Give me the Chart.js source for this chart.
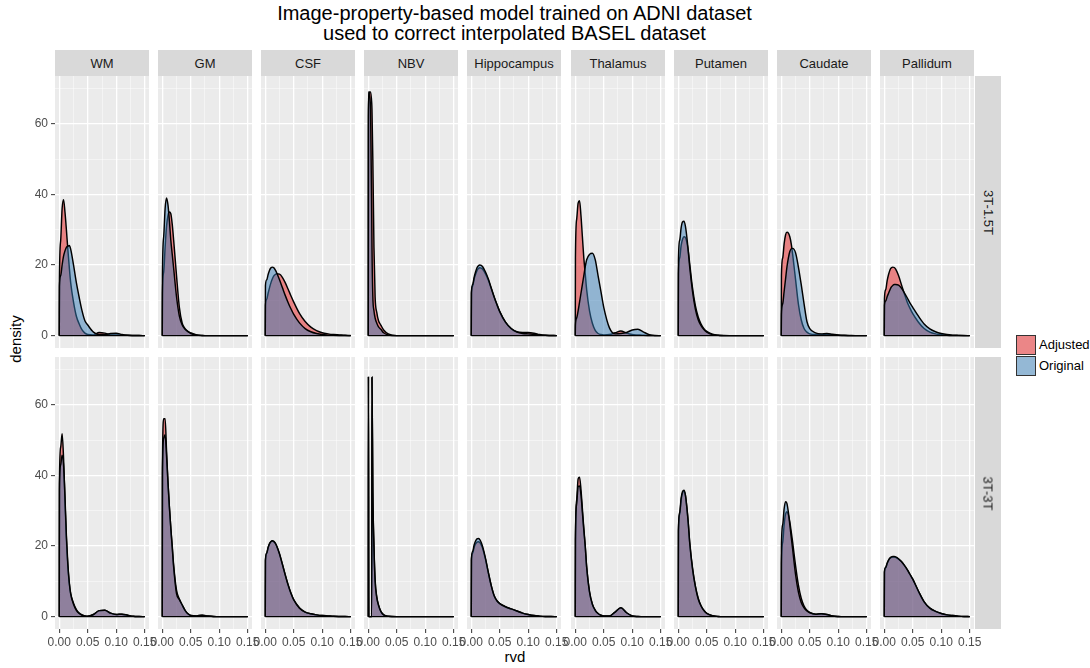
<!DOCTYPE html>
<html>
<head>
<meta charset="utf-8">
<title>rvd density by region</title>
<script src="https://cdn.jsdelivr.net/npm/chart.js@4.4.1/dist/chart.umd.min.js"></script>
<style>
  body { margin: 0; background: #fff; }
  #fig { position: relative; width: 1090px; height: 668px; overflow: hidden;
         font-family: "Liberation Sans", Arial, Helvetica, sans-serif; }
  #fig canvas { position: absolute; }
  .title { position: absolute; left: 55px; width: 919px; top: 2.5px; text-align: center;
           font-size: 20px; line-height: 20px; color: #000; }
  .strip { position: absolute; background: #D9D9D9; color: #1A1A1A; font-size: 13px;
           display: flex; align-items: center; justify-content: center; white-space: nowrap; }
  .strip.side span { transform: rotate(90deg); }
  .axtitle { position: absolute; font-size: 15px; color: #000; white-space: nowrap;
             transform: translate(-50%, -50%); }
  #ytitle { transform: translate(-50%, -50%) rotate(-90deg); }
  .key { position: absolute; left: 1016px; width: 18px; height: 18px; border: 1px solid #333; }
  .keytxt { position: absolute; left: 1039px; font-size: 13px; line-height: 20px; color: #000; }
</style>
</head>
<body>
<div id="fig">
  <div class="title">Image-property-based model trained on ADNI dataset<br>used to correct interpolated BASEL dataset</div>
  <div class="axtitle" id="ytitle" style="left:15px; top:339px;">density</div>
  <div class="axtitle" id="xtitle" style="left:515px; top:656px;">rvd</div>
  <div class="key" style="top:335px; background:#EB8687;"></div>
  <div class="keytxt" style="top:335px;">Adjusted</div>
  <div class="key" style="top:356px; background:#94B8D5;"></div>
  <div class="keytxt" style="top:356px;">Original</div>
</div>
<script>
// facets
var regions = ['WM', 'GM', 'CSF', 'NBV', 'Hippocampus', 'Thalamus', 'Putamen', 'Caudate', 'Pallidum'];
var pairs = ['3T-1.5T', '3T-3T'];

// rvd values the densities were read at (NBV needs a finer grid near 0)
var xs = [0.0003, 0.0025, 0.005, 0.0075, 0.01, 0.0125, 0.015, 0.0175, 0.02, 0.025, 0.03, 0.035,
          0.04, 0.045, 0.05, 0.06, 0.07, 0.08, 0.09, 0.10, 0.11, 0.12, 0.13, 0.14, 0.15];
var xsNBV = [0.0003, 0.001, 0.002, 0.004, 0.006, 0.0065, 0.008, 0.01, 0.012, 0.015, 0.018,
             0.022, 0.027, 0.035, 0.05, 0.15];

var xTicks = [0, 0.025, 0.05, 0.075, 0.10, 0.125, 0.15];   // even index = labelled
var yTicks = [0, 10, 20, 30, 40, 50, 60, 70];

// 3T-1.5T row
var wm15Adj   = [16, 27, 36, 38.5, 35, 30, 24.5, 19.5, 15, 9.5, 5.5, 3.3, 1.6, 0.7, 0.3, 0.2, 0.9, 0.7, 0.2, 0.2, 0.2, 0.1, 0.05, 0.02, 0];
var wm15Org   = [14, 17, 20, 22.5, 24, 25, 25.3, 25.5, 24.5, 20, 15, 10.8, 7, 4.2, 3, 1, 0.3, 0.3, 0.6, 0.7, 0.3, 0.1, 0.05, 0.02, 0];
var gm15Adj   = [12, 18, 25, 31, 34, 35, 34.5, 31.5, 27, 17, 8, 3.5, 2, 1.2, 0.8, 0.2, 0.05, 0, 0, 0, 0, 0, 0, 0, 0];
var gm15Org   = [17, 28, 36, 39, 37, 32.5, 27, 23, 19, 11, 5.5, 3, 1.8, 1.1, 0.6, 0.2, 0.05, 0, 0, 0, 0, 0, 0, 0, 0];
var csf15Adj  = [8.6, 10.3, 12, 13.6, 15, 16.1, 16.9, 17.3, 17.5, 17.4, 16.5, 15, 13.2, 11.3, 9.5, 6.3, 4, 2.4, 1.4, 0.8, 0.5, 0.3, 0.2, 0.1, 0.05];
var csf15Org  = [14.2, 15.8, 17.3, 18.5, 19.2, 19.4, 19.2, 18.6, 17.8, 15.8, 13.6, 11.4, 9.4, 7.6, 6, 3.6, 2, 1.1, 0.6, 0.3, 0.15, 0.08, 0.04, 0.02, 0];
var nbv15Adj  = [62, 67, 69, 69, 66, 64, 50, 25, 11, 6.5, 4.2, 3, 1.6, 0.5, 0, 0];
var nbv15Org  = [69, 69, 68, 64, 35, 25, 11, 7, 5, 3.5, 2.5, 1.8, 0.8, 0.2, 0, 0];
var hip15Adj  = [12, 14, 16, 17.3, 18.4, 19, 19.2, 19.1, 18.8, 17.5, 15.7, 13.4, 11, 8.8, 6.8, 3.8, 2, 1.1, 0.9, 0.9, 0.7, 0.3, 0.1, 0.05, 0];
var hip15Org  = [12.3, 14.5, 16.5, 18, 19.2, 19.8, 20, 19.9, 19.5, 18, 16, 13.5, 11, 8.8, 6.8, 3.8, 2, 1, 0.6, 0.5, 0.4, 0.2, 0.1, 0.05, 0];
var thal15Adj = [22, 33, 37.5, 38.2, 34, 28, 22, 17.5, 13, 7, 3.5, 1.5, 0.6, 0.3, 0.2, 0.3, 0.8, 1.3, 0.7, 0.3, 0.2, 0.1, 0.05, 0, 0];
var thal15Org = [3, 5, 7, 9.5, 12, 14.5, 17, 19.5, 21.5, 23, 23.3, 21.5, 17, 12.5, 8, 2.2, 0.5, 0.6, 0.9, 1.6, 1.8, 1.0, 0.3, 0.05, 0];
var put15Adj  = [17.6, 22, 25.5, 27.3, 28, 27.8, 26.5, 24, 20.5, 13.5, 8.5, 5.3, 3.3, 2, 1.2, 0.4, 0.1, 0.03, 0, 0, 0, 0, 0, 0, 0];
var put15Org  = [21.3, 27, 30.5, 32.2, 32.4, 31, 28, 24, 19.5, 12.5, 7.5, 4.5, 2.8, 1.7, 1, 0.3, 0.1, 0, 0, 0, 0, 0, 0, 0, 0];
var caud15Adj = [17, 22, 26, 28.5, 29.3, 29, 28, 26, 23, 16, 9, 4.5, 2, 1, 0.5, 0.3, 0.3, 0.3, 0.2, 0.1, 0.05, 0, 0, 0, 0];
var caud15Org = [6, 9, 12.5, 16, 19.5, 22, 23.8, 24.6, 24.7, 23.5, 19.5, 14.5, 9, 4, 2, 0.8, 0.5, 0.6, 0.4, 0.2, 0.1, 0.05, 0, 0, 0];
var pall15Adj = [10.4, 13, 15.5, 17.3, 18.6, 19.2, 19.4, 19.3, 18.8, 17, 14.5, 12, 9.6, 7.8, 6.2, 3.8, 2, 1, 0.5, 0.25, 0.12, 0.05, 0.02, 0, 0];
var pall15Org = [8.6, 9.8, 11, 12, 13, 13.8, 14.2, 14.5, 14.5, 14.3, 13.5, 12.2, 10.8, 9.3, 8, 5.5, 3.3, 1.9, 1.1, 0.6, 0.3, 0.15, 0.08, 0.03, 0];

// 3T-3T row
var wm3Adj   = [38, 48, 51.8, 45, 33, 22, 14.5, 9.5, 6.5, 3.8, 2, 1, 0.5, 0.2, 0.1, 0.6, 1.7, 1.8, 1.0, 0.6, 0.7, 0.4, 0.1, 0.02, 0];
var wm3Org   = [36, 43, 45.7, 43, 34, 23, 15, 9.8, 6.5, 3.5, 1.8, 0.9, 0.4, 0.2, 0.1, 0.6, 1.7, 1.8, 1.0, 0.6, 0.7, 0.4, 0.1, 0.02, 0];
var gm3Adj   = [42, 56, 56, 47, 38, 31, 25, 20, 14.5, 7.5, 5, 3.3, 1.8, 0.8, 0.3, 0.2, 0.4, 0.2, 0.05, 0, 0, 0, 0, 0, 0];
var gm3Org   = [40, 50.5, 51.5, 45.5, 38, 31, 25, 19.5, 14, 6.5, 4.8, 3.3, 1.8, 0.8, 0.3, 0.2, 0.4, 0.2, 0.05, 0, 0, 0, 0, 0, 0];
var csf3Adj  = [15.8, 17.9, 19.5, 20.6, 21.2, 21.4, 21.2, 20.8, 20, 17.8, 14.9, 11.9, 9.1, 6.7, 4.8, 2.5, 1.3, 0.8, 0.5, 0.3, 0.2, 0.1, 0.05, 0.02, 0];
var csf3Org  = [16, 18, 19.6, 20.7, 21.3, 21.5, 21.3, 20.8, 20, 17.7, 14.8, 11.8, 9, 6.6, 4.7, 2.4, 1.3, 0.8, 0.5, 0.3, 0.2, 0.1, 0.05, 0.02, 0];
var nbv3Adj  = [68, 0, 0, 0, 0, 67.8, 36, 20, 10.5, 5.5, 3.3, 1.5, 0.5, 0.1, 0, 0];
var nbv3Org  = [68, 0, 0, 0, 0, 67.8, 35, 19.5, 10, 5.3, 3.2, 1.5, 0.5, 0.1, 0, 0];
var hip3Adj  = [16, 18, 19.6, 20.6, 21.1, 21.2, 21, 20.3, 19.3, 16.2, 12.4, 8.8, 6, 4.5, 3.7, 2.8, 2.2, 1.6, 1.0, 0.6, 0.3, 0.15, 0.05, 0.02, 0];
var hip3Org  = [16.5, 18.5, 20.3, 21.4, 22, 22.1, 21.8, 21, 19.8, 16.5, 12.5, 8.8, 6, 4.5, 3.7, 2.8, 2.2, 1.6, 1.0, 0.6, 0.3, 0.15, 0.05, 0.02, 0];
var thal3Adj = [21.7, 33, 39, 39.5, 36, 30.5, 25, 20, 14, 7, 3.5, 1.8, 0.9, 0.4, 0.2, 0.2, 1.3, 2.5, 1.1, 0.2, 0.05, 0, 0, 0, 0];
var thal3Org = [21.7, 32, 36.8, 37, 34.5, 29.5, 24.5, 19.8, 14, 7, 3.5, 1.8, 0.9, 0.4, 0.2, 0.2, 1.3, 2.5, 1.1, 0.2, 0.05, 0, 0, 0, 0];
var put3Adj  = [24, 29, 33, 35, 35.5, 34.3, 31, 26.6, 21.2, 13.8, 8.7, 5.2, 3.1, 1.8, 0.95, 0.3, 0.05, 0, 0, 0, 0, 0, 0, 0, 0];
var put3Org  = [24.5, 29.5, 33.5, 35.4, 35.8, 34.5, 31, 26.5, 21, 13.5, 8.5, 5, 3, 1.7, 0.9, 0.25, 0.05, 0, 0, 0, 0, 0, 0, 0, 0];
var caud3Adj = [15, 21, 26, 29, 29.7, 28.8, 26.8, 24, 21, 14.5, 9, 5.2, 3, 1.8, 1.2, 0.7, 0.8, 0.6, 0.2, 0.05, 0, 0, 0, 0, 0];
var caud3Org = [20, 26, 30.5, 32.5, 32, 29.5, 26, 22.5, 19, 12, 7, 4, 2.5, 1.6, 1.1, 0.7, 0.8, 0.6, 0.2, 0.05, 0, 0, 0, 0, 0];
var pall3Adj = [12.5, 13.8, 15, 15.9, 16.5, 16.8, 16.9, 16.9, 16.8, 16.3, 15.6, 14.6, 13.4, 12, 10.6, 7.2, 4.2, 2.4, 1.5, 0.9, 0.5, 0.3, 0.15, 0.05, 0];
var pall3Org = [12.7, 14, 15.1, 16, 16.6, 16.9, 17, 17, 16.9, 16.4, 15.6, 14.6, 13.4, 12, 10.6, 7.2, 4.2, 2.4, 1.5, 0.9, 0.5, 0.3, 0.15, 0.05, 0];

// lookup [row][col] -> [adjusted, original]
var curves = [
  [[wm15Adj, wm15Org], [gm15Adj, gm15Org], [csf15Adj, csf15Org], [nbv15Adj, nbv15Org], [hip15Adj, hip15Org],
   [thal15Adj, thal15Org], [put15Adj, put15Org], [caud15Adj, caud15Org], [pall15Adj, pall15Org]],
  [[wm3Adj, wm3Org], [gm3Adj, gm3Org], [csf3Adj, csf3Org], [nbv3Adj, nbv3Org], [hip3Adj, hip3Org],
   [thal3Adj, thal3Org], [put3Adj, put3Org], [caud3Adj, caud3Org], [pall3Adj, pall3Org]]
];

var FONT = "'Liberation Sans', Arial, Helvetica, sans-serif";
var PX0 = 55, PITCH = 103.1, PW = 94, PH = 272;
var ROWTOP = [76, 357];
var YAX = 25, XAX = 20, M = 12;
var LW = 1.45;

var fig = document.getElementById('fig');

// grey panel background
var panelBg = {
  id: 'panelBg',
  beforeDraw: function (chart) {
    var a = chart.chartArea, ctx = chart.ctx;
    ctx.save();
    ctx.fillStyle = '#EBEBEB';
    ctx.fillRect(a.left, a.top, a.right - a.left, a.bottom - a.top);
    ctx.restore();
  }
};

function gridColor(c) { return c.index % 2 ? 'rgba(255,255,255,0.8)' : '#FFFFFF'; }
function gridWidth(c) { return c.index % 2 ? 0.6 : 1.3; }
function tickColor(c) { return c.index % 2 ? 'rgba(0,0,0,0)' : '#333333'; }

function toPoints(xv, ys) {
  var p = [{ x: 0, y: 0 }];
  for (var i = 0; i < ys.length; i++) p.push({ x: xv[i], y: ys[i] });
  return p;
}

function areaSet(label, pts, fillCol, ord) {
  return {
    label: label, data: pts, order: ord,
    backgroundColor: fillCol, borderColor: '#000', borderWidth: LW,
    fill: 'origin', pointRadius: 0, cubicInterpolationMode: 'monotone'
  };
}

regions.forEach(function (reg, c) {
  // strip on top
  var left = Math.round(PX0 + c * PITCH);
  var s = document.createElement('div');
  s.className = 'strip';
  s.style.left = left + 'px'; s.style.top = '50px';
  s.style.width = PW + 'px'; s.style.height = '26px';
  s.textContent = reg;
  fig.appendChild(s);

  pairs.forEach(function (pair, r) {
    var first = c === 0, bottom = r === pairs.length - 1;
    var xv = reg === 'NBV' ? xsNBV : xs;
    var adj = curves[r][c][0], org = curves[r][c][1];

    var cv = document.createElement('canvas');
    cv.width = PW + 2 * M + (first ? YAX : 0);
    cv.height = PH + (bottom ? XAX : 0);
    cv.style.left = (left - M - (first ? YAX : 0)) + 'px';
    cv.style.top = ROWTOP[r] + 'px';
    fig.appendChild(cv);

    new Chart(cv, {
      type: 'line',
      data: {
        datasets: [
          { label: 'base', data: [{ x: 0, y: 0 }, { x: xv[xv.length - 1], y: 0 }], order: 0,
            borderColor: '#000', borderWidth: LW, fill: false, pointRadius: 0 },
          areaSet('Original', toPoints(xv, org), 'rgba(55,126,184,0.5)', 1),
          areaSet('Adjusted', toPoints(xv, adj), 'rgba(228,26,28,0.5)', 2)
        ]
      },
      options: {
        responsive: false, animation: false, devicePixelRatio: 1, events: [],
        layout: { padding: { left: M, right: M, top: 0, bottom: 0 } },
        plugins: { legend: { display: false }, tooltip: { enabled: false } },
        scales: {
          x: {
            type: 'linear', min: -0.0075, max: 0.1575,
            afterBuildTicks: function (sc) { sc.ticks = xTicks.map(function (v) { return { value: v }; }); },
            afterFit: function (sc) { sc.height = bottom ? XAX : 0; sc.paddingLeft = 0; sc.paddingRight = 0; },
            border: { display: false },
            grid: { color: gridColor, lineWidth: gridWidth, drawTicks: bottom, tickLength: 4,
                    tickWidth: 1, tickColor: tickColor },
            ticks: { display: bottom, padding: 2, color: '#4D4D4D', font: { family: FONT, size: 12 },
                     maxRotation: 0, autoSkip: false,
                     callback: function (v, i) { return i % 2 ? '' : v.toFixed(2); } }
          },
          y: {
            type: 'linear', min: -3.5, max: 73.5,
            afterBuildTicks: function (sc) { sc.ticks = yTicks.map(function (v) { return { value: v }; }); },
            afterFit: function (sc) { sc.width = first ? YAX : 0; sc.paddingTop = 0; sc.paddingBottom = 0; },
            border: { display: false },
            grid: { color: gridColor, lineWidth: gridWidth, drawTicks: first, tickLength: 4,
                    tickWidth: 1, tickColor: tickColor },
            ticks: { display: first, padding: 3, color: '#4D4D4D', font: { family: FONT, size: 12 },
                     autoSkip: false,
                     callback: function (v, i) { return i % 2 ? '' : String(v); } }
          }
        }
      },
      plugins: [panelBg]
    });
  });
});

// strips on the right
pairs.forEach(function (pair, r) {
  var s = document.createElement('div');
  s.className = 'strip side';
  s.style.left = '975px'; s.style.top = ROWTOP[r] + 'px';
  s.style.width = '26px'; s.style.height = PH + 'px';
  var t = document.createElement('span');
  t.textContent = pair;
  s.appendChild(t);
  fig.appendChild(s);
});
</script>
</body>
</html>
